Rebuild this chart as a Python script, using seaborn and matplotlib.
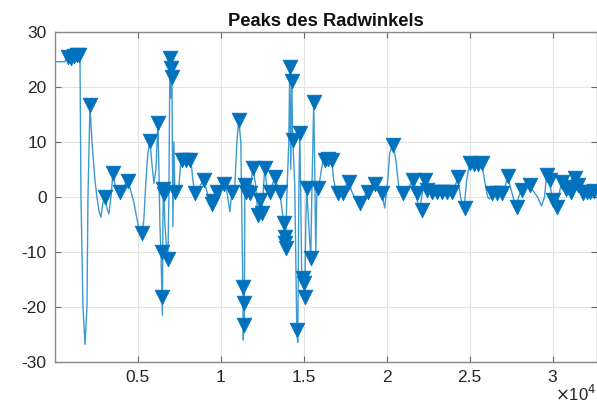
import numpy as np
import pandas as pd
import matplotlib
matplotlib.use("Agg")
import matplotlib.pyplot as plt
import seaborn as sns

# ---- signal (angle) ----
line_x = [0, 602, 723, 904, 1024, 1205, 1386, 1506, 1566, 1687, 1807, 1928, 1988, 2108, 2229, 2410,
          2530, 2651, 2771, 2892, 3012, 3133, 3253, 3373, 3494, 3675, 3916, 4157, 4398, 4578, 4759,
          4940, 5120, 5241, 5361, 5482, 5602, 5723, 5843, 5964, 6084, 6205, 6265, 6325, 6386, 6446,
          6476, 6506, 6536, 6566, 6627, 6747, 6807, 6867, 6928, 6988, 7048, 7108, 7169, 7229, 7349,
          7470, 7590, 7711, 7891, 8072, 8192, 8313, 8434, 8554, 8735, 8976, 9156, 9337, 9458, 9578,
          9759, 9940, 10181, 10361, 10542, 10662, 10843, 10964, 11084, 11204, 11325, 11355, 11385,
          11415, 11446, 11506, 11747, 11928, 12108, 12229, 12349, 12470, 12650, 12771, 12952, 13072,
          13253, 13434, 13554, 13674, 13795, 13855, 13885, 13915, 13976, 14096, 14156, 14217, 14277,
          14337, 14458, 14578, 14638, 14699, 14759, 14819, 14879, 14940, 15000, 15060, 15120, 15180,
          15301, 15421, 15482, 15602, 15662, 15723, 15783, 15843, 15964, 16145, 16386, 16566, 16686,
          16807, 16988, 17168, 17349, 17530, 17711, 17891, 18132, 18373, 18614, 18855, 19096, 19277,
          19458, 19698, 19879, 20060, 20180, 20361, 20542, 20723, 20964, 21205, 21385, 21566, 21747,
          21867, 21988, 22108, 22289, 22409, 22590, 23193, 23795, 24096, 24277, 24458, 24578, 24699,
          24819, 25000, 25361, 25723, 25904, 26084, 26205, 26386, 26807, 27108, 27289, 27530, 27710,
          27831, 27952, 28133, 28373, 28614, 28855, 29096, 29337, 29518, 29638, 29759, 29819, 29939,
          30000, 30120, 30241, 30361, 30542, 30723, 30903, 31084, 31325, 31506, 31687, 31807, 32048,
          32229, 32470, 32650]
line_y = [24.6, 24.6, 25.5, 25.2, 25.7, 25.3, 25.8, 25.6, 0, -20, -26.8, -20, 0, 16.7, 10, 3,
          0, -2.5, -3.7, -1, 0, -2, -3.1, 0, 4.3, 1.5, 1, 2, 3, 1, -1,
          -4, -6.6, -6.8, -4, 3, 8, 10.2, 6, 2.5, 5, 13.4, 5, -5, -10, -18,
          -21.5, -5, 1.5, 0.5, -5, -10, -11.3, 0, 25.3, 18, 23.4, -5.4, 10, 0.9, 1,
          2, 6.5, 6.8, 6, 6.8, 6.8, 3, 0.7, 0.5, 2, 3.1, 1, -1, -1.2, -0.5,
          0.9, 2, 2.4, 1, -2.7, 0.9, 2, 10, 14, 10, -16.3, -26, -19.3,
          -23.3, 2.2, 0.9, 0.7, 5.3, 2, -3.3, -0.5, -2.9, 5.3, 2, 0.9, 2,
          3.6, 1.5, 0.9, -2, -4.8, -7.2, -9.3, -8.4, 0, 10, 23.6, 5, 21.1,
          10.4, 2, -24.2, -26.4, 0, 11.6, 0, -15, -14.8, -15.7, -18.2, -5, 1.6,
          -5, -11.1, 0, 17.3, 5, -10, 0, 1.6, 3, 6.5, 7, 6, 6.7,
          3, 0.7, 0.5, 0.7, 2, 2.7, 1, -0.5, -1.2, 0, 0.9, 2, 2.3,
          1.5, 0.7, -2, 3, 8, 9.5, 7, 2, 0.7, 1, 2, 3.1, 1,
          -1, -2.4, 0, 3.1, 1.2, 0.9, 0.9, 0.9, 1.5, 3.6, 0, -2, -1,
          3, 6.2, 5.8, 6.2, 3, 0, -0.3, 0.7, 0.9, 1.5, 3.8, 1, -1,
          -1.8, 0, 1.3, 2, 2.2, 1, 0, -1.6, 0, 4, 3, 3.1, 0.5,
          -0.5, -1, -1.8, 0, 2.7, 1.5, 1.8, 1, 3.5, 2.2, 1, 0.7, 1.2,
          0.9, 1.1, 1.3]

# ---- detected peaks ----
peak_x = [783, 964, 1145, 1325, 1446, 2108, 3012, 3494, 3916, 4398, 5241, 5723, 6205, 6446, 6446,
          6536, 6566, 6807, 6928, 6988, 7048, 7229, 7650, 7891, 8132, 8434, 8976, 9458, 9518, 9759,
          10181, 10662, 11084, 11325, 11385, 11415, 11446, 11506, 11747, 11928, 12229, 12349, 12470,
          12650, 12952, 13253, 13554, 13795, 13855, 13885, 13915, 14156, 14277, 14337, 14578, 14759,
          14940, 15000, 15060, 15180, 15421, 15602, 15843, 16265, 16446, 16686, 17048, 17349, 17711,
          18373, 18855, 19277, 19698, 20361, 20964, 21566, 21807, 22108, 22289, 22409, 22710, 23012,
          23313, 23614, 23915, 24277, 24699, 25000, 25241, 25482, 25723, 26325, 26627, 26928, 27289,
          27831, 28133, 28614, 29638, 29819, 30000, 30241, 30542, 30783, 30903, 31084, 31325, 31506,
          31807, 32048, 32229, 32470]
peak_y = [25.5, 25.3, 25.6, 25.8, 25.8, 16.7, 0, 4.3, 1, 3, -6.6, 10.2, 13.4, -10, -18.2,
          1.5, 0.5, -11.3, 25.3, 23.4, 21.9, 0.9, 6.7, 6.8, 6.8, 0.7, 3.1, -1.2, -0.8, 0.9,
          2.4, 0.9, 14, -16.3, -19.3, -23.3, 2.2, 0.9, 0.7, 5.3, -3.3, -0.5, -2.9,
          5.3, 0.9, 3.6, 0.9, -4.8, -7.2, -8.4, -9.3, 23.6, 21.1, 10.4, -24.2, 11.6,
          -14.8, -15.7, -18.2, 1.6, -11.1, 17.3, 1.6, 6.7, 7, 6.7, 0.7, 0.7, 2.7,
          -1.0, 0.9, 2.3, 0.7, 9.5, 0.7, 3.1, 0.8, -2.4, 3.1, 1.2, 0.9, 0.9,
          0.9, 0.9, 0.9, 3.6, -2, 6.2, 6.0, 6.0, 6.2, 0.7, 0.7, 0.7, 3.8,
          -1.8, 1.3, 2.2, 4, 3.1, -0.5, -1.8, 2.7, 1.5, 1.8, 1.0, 3.5, 2.2,
          0.7, 1.0, 0.9, 1.1]

x_ticks = [5000, 10000, 15000, 20000, 25000, 30000]
x_tick_labels = ["0.5", "1", "1.5", "2", "2.5", "3"]
y_ticks = [-30, -20, -10, 0, 10, 20, 30]
y_tick_labels = ["-30", "-20", "-10", "0", "10", "20", "30"]

sig = pd.DataFrame({"x": line_x, "y": line_y})
pk = pd.DataFrame({"x": peak_x, "y": peak_y})

sns.set_theme(style="whitegrid")
plt.rcParams["font.family"] = ["Liberation Sans", "DejaVu Sans"]
plt.rcParams["axes.unicode_minus"] = False

color = "#0072BD"
fig = plt.figure(figsize=(5.97, 4.03), dpi=100)
ax = fig.add_axes([55 / 597, 1 - 362 / 403, 541.5 / 597, 330 / 403])

sns.lineplot(data=sig, x="x", y="y", sort=False, estimator=None, ax=ax,
             color="#3d9ad1", linewidth=1.0)
sns.scatterplot(data=pk, x="x", y="y", marker="v", s=110, color=color,
                edgecolor=color, linewidth=0.6, ax=ax, zorder=3)

ax.set_xlim(0, 32650)
ax.set_ylim(-30, 30)
ax.set_xticks(x_ticks)
ax.set_xticklabels(x_tick_labels)
ax.set_yticks(y_ticks)
ax.set_yticklabels(y_tick_labels)
ax.set_xlabel("")
ax.set_ylabel("")
ax.grid(True, color="#e3e3e3", linewidth=0.8)
ax.set_facecolor("white")
for side, sp in ax.spines.items():
    sp.set_visible(True)
    sp.set_color("#8a8a8a")
    sp.set_linewidth(1.0)
ax.tick_params(axis="both", direction="in", length=4, width=0.8, color="#666666",
               labelsize=12.5, labelcolor="#262626", top=True, right=True,
               bottom=True, left=True, pad=6)
ax.set_title("Peaks des Radwinkels", fontsize=13.2, fontweight="bold", color="#111111", pad=4)
fig.text(576 / 597, 1 - 394 / 403, r"$\times$10$^4$", fontsize=12, color="#262626",
         ha="center", va="center")

fig.savefig("out.png", dpi=100, facecolor="white")
